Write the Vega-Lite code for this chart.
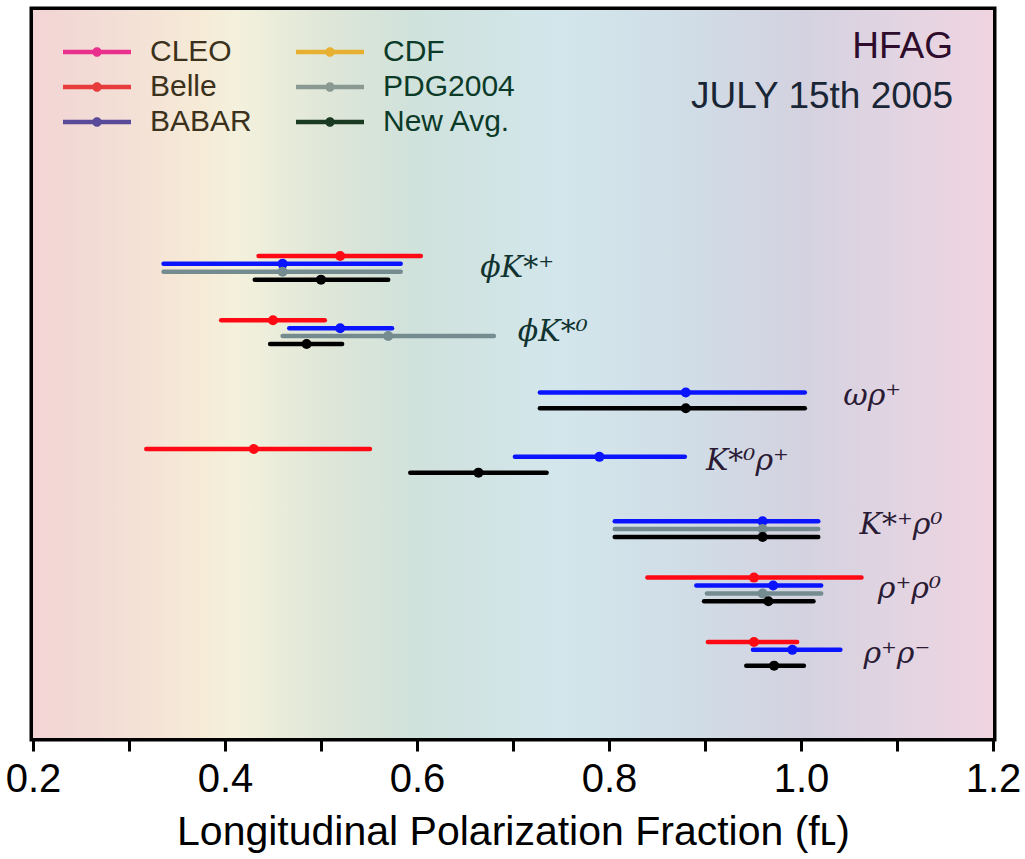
{
  "$schema": "https://vega.github.io/schema/vega-lite/v6.json",
  "width": 960,
  "height": 728,
  "autosize": "none",
  "padding": {"left": 33, "top": 10, "right": 32, "bottom": 121},
  "background": "white",
  "config": {
    "view": {"stroke": "#000000", "strokeWidth": 7},
    "font": "Liberation Sans"
  },
  "title": {
    "text": "HFAG",
    "subtitle": "JULY 15th 2005",
    "anchor": "end",
    "orient": "top",
    "frame": "group",
    "font": "Liberation Sans",
    "subtitleFont": "Liberation Sans",
    "fontSize": 37,
    "subtitleFontSize": 37,
    "fontWeight": "normal",
    "color": "#2e0c2c",
    "subtitleColor": "#1a2636",
    "offset": -106,
    "dx": -40,
    "subtitlePadding": 13
  },
  "datasets": {
    "meas": [
      {"group": "phiKstp", "expt": "Belle", "val": 0.52, "lo": 0.435, "hi": 0.604},
      {"group": "phiKstp", "expt": "BABAR", "val": 0.46, "lo": 0.336, "hi": 0.583},
      {"group": "phiKstp", "expt": "PDG2004", "val": 0.46, "lo": 0.336, "hi": 0.583},
      {"group": "phiKstp", "expt": "New Avg.", "val": 0.50, "lo": 0.431, "hi": 0.570},
      {"group": "phiKst0", "expt": "Belle", "val": 0.45, "lo": 0.396, "hi": 0.504},
      {"group": "phiKst0", "expt": "BABAR", "val": 0.52, "lo": 0.467, "hi": 0.574},
      {"group": "phiKst0", "expt": "PDG2004", "val": 0.57, "lo": 0.460, "hi": 0.680},
      {"group": "phiKst0", "expt": "New Avg.", "val": 0.485, "lo": 0.447, "hi": 0.522},
      {"group": "omegarho", "expt": "BABAR", "val": 0.88, "lo": 0.728, "hi": 1.004},
      {"group": "omegarho", "expt": "New Avg.", "val": 0.88, "lo": 0.728, "hi": 1.004},
      {"group": "Kst0rho", "expt": "Belle", "val": 0.43, "lo": 0.318, "hi": 0.551},
      {"group": "Kst0rho", "expt": "BABAR", "val": 0.79, "lo": 0.702, "hi": 0.879},
      {"group": "Kst0rho", "expt": "New Avg.", "val": 0.664, "lo": 0.593, "hi": 0.735},
      {"group": "Kstprho0", "expt": "BABAR", "val": 0.96, "lo": 0.806, "hi": 1.018},
      {"group": "Kstprho0", "expt": "PDG2004", "val": 0.96, "lo": 0.806, "hi": 1.018},
      {"group": "Kstprho0", "expt": "New Avg.", "val": 0.96, "lo": 0.806, "hi": 1.018},
      {"group": "rhoprho0", "expt": "Belle", "val": 0.951, "lo": 0.840, "hi": 1.063},
      {"group": "rhoprho0", "expt": "BABAR", "val": 0.971, "lo": 0.891, "hi": 1.021},
      {"group": "rhoprho0", "expt": "PDG2004", "val": 0.96, "lo": 0.902, "hi": 1.021},
      {"group": "rhoprho0", "expt": "New Avg.", "val": 0.966, "lo": 0.899, "hi": 1.013},
      {"group": "rhoprhom", "expt": "Belle", "val": 0.951, "lo": 0.903, "hi": 0.996},
      {"group": "rhoprhom", "expt": "BABAR", "val": 0.991, "lo": 0.950, "hi": 1.041},
      {"group": "rhoprhom", "expt": "New Avg.", "val": 0.972, "lo": 0.943, "hi": 1.003}
    ],
    "labels": [
      {"group": "phiKstp", "label": "ϕK*⁺", "xpos": 0.666},
      {"group": "phiKst0", "label": "ϕK*⁰", "xpos": 0.705},
      {"group": "omegarho", "label": "ωρ⁺", "xpos": 1.044},
      {"group": "Kst0rho", "label": "K*⁰ρ⁺", "xpos": 0.901},
      {"group": "Kstprho0", "label": "K*⁺ρ⁰", "xpos": 1.061},
      {"group": "rhoprho0", "label": "ρ⁺ρ⁰", "xpos": 1.08},
      {"group": "rhoprhom", "label": "ρ⁺ρ⁻", "xpos": 1.065}
    ],
    "legend": [
      {"src": "CLEO"}, {"src": "Belle"}, {"src": "BABAR"},
      {"src": "CDF"}, {"src": "PDG2004"}, {"src": "New Avg."}
    ]
  },
  "layer": [
    {
      "data": {"values": [{}]},
      "mark": {
        "type": "rect",
        "fill": {
          "gradient": "linear",
          "x1": 0, "y1": 0, "x2": 1, "y2": 0,
          "stops": [
            {"offset": 0, "color": "#f2d4d4"},
            {"offset": 0.1, "color": "#f3e0d6"},
            {"offset": 0.17, "color": "#f6ead6"},
            {"offset": 0.215, "color": "#f3f1dc"},
            {"offset": 0.31, "color": "#dee6d8"},
            {"offset": 0.4, "color": "#cfe2dc"},
            {"offset": 0.55, "color": "#d3e6ec"},
            {"offset": 0.685, "color": "#d0dde6"},
            {"offset": 0.8, "color": "#d4d2e0"},
            {"offset": 0.9, "color": "#e2d4e2"},
            {"offset": 1, "color": "#f0d4e0"}
          ]
        }
      },
      "encoding": {
        "x": {
          "datum": 0.2,
          "type": "quantitative",
          "scale": {"domain": [0.2, 1.2], "nice": false, "zero": false},
          "axis": {
            "title": "Longitudinal Polarization Fraction (fʟ)",
            "values": [0.2, 0.3, 0.4, 0.5, 0.6, 0.7, 0.8, 0.9, 1.0, 1.1, 1.2],
            "labelExpr": "indexof(['0.2','0.4','0.6','0.8','1.0','1.2'], format(datum.value, '.1f')) >= 0 ? format(datum.value, '.1f') : ''",
            "domain": false,
            "grid": false,
            "ticks": true,
            "tickColor": "#000000",
            "tickWidth": 3,
            "tickSize": 13,
            "labelFont": "Liberation Sans Narrow, Liberation Sans",
            "labelFontSize": 40,
            "labelColor": "#000000",
            "labelPadding": 8,
            "labelFlush": false,
            "labelOverlap": false,
            "labelBound": false,
            "titleFont": "Liberation Sans Narrow, Liberation Sans",
            "titleFontSize": 41,
            "titleFontWeight": "normal",
            "titleColor": "#000000",
            "titlePadding": 13
          }
        },
        "x2": {"datum": 1.2}
      }
    },
    {
      "data": {"name": "meas"},
      "mark": {"type": "rule", "strokeWidth": 4.5, "strokeCap": "round"},
      "encoding": {
        "x": {"field": "lo", "type": "quantitative"},
        "x2": {"field": "hi"},
        "y": {
          "field": "group",
          "type": "nominal",
          "axis": null,
          "scale": {
            "domain": ["phiKstp", "phiKst0", "omegarho", "Kst0rho", "Kstprho0", "rhoprho0", "rhoprhom"],
            "range": [242, 659.6],
            "paddingInner": 0.509,
            "paddingOuter": 0
          }
        },
        "yOffset": {
          "field": "expt",
          "type": "nominal",
          "scale": {"domain": ["Belle", "BABAR", "PDG2004", "New Avg."], "paddingInner": 0, "paddingOuter": 0}
        },
        "color": {
          "field": "expt",
          "type": "nominal",
          "legend": null,
          "scale": {"domain": ["Belle", "BABAR", "PDG2004", "New Avg."], "range": ["#ff0a14", "#0a14ff", "#748c90", "#000000"]}
        }
      }
    },
    {
      "data": {"name": "meas"},
      "mark": {"type": "circle", "size": 100, "opacity": 1},
      "encoding": {
        "x": {"field": "val", "type": "quantitative"},
        "y": {"field": "group", "type": "nominal"},
        "yOffset": {"field": "expt", "type": "nominal"},
        "color": {"field": "expt", "type": "nominal", "legend": null}
      }
    },
    {
      "data": {"name": "labels"},
      "mark": {"type": "text", "align": "left", "baseline": "middle", "font": "DejaVu Serif", "fontStyle": "italic", "fontSize": 30},
      "encoding": {
        "x": {"field": "xpos", "type": "quantitative"},
        "y": {"field": "group", "type": "nominal"},
        "text": {"field": "label"},
        "color": {"condition": {"test": "datum.xpos > 0.85", "value": "#2a1a34"}, "value": "#103330"}
      }
    },
    {
      "data": {"name": "legend"},
      "mark": {"type": "point", "opacity": 0, "filled": true},
      "encoding": {
        "fill": {
          "field": "src",
          "type": "nominal",
          "scale": {
            "domain": ["CLEO", "Belle", "BABAR", "CDF", "PDG2004", "New Avg."],
            "range": ["#e8308c", "#e83c3c", "#5a4a9a", "#e8b030", "#8a9a92", "#1a3a22"]
          },
          "legend": {
            "title": null,
            "orient": "none",
            "legendX": 47,
            "legendY": 25,
            "columns": 2,
            "direction": "vertical",
            "padding": 0,
            "symbolType": "M-2,-0.13H2V0.13H-2Z M0.28,0A0.28,0.28 0 1,1 -0.28,0A0.28,0.28 0 1,1 0.28,0Z",
            "symbolSize": 1156,
            "symbolOpacity": 1,
            "symbolStrokeWidth": 0,
            "labelFont": "Liberation Sans",
            "labelFontSize": 30,
            "labelOffset": 36,
            "labelLimit": 300,
            "columnPadding": 44,
            "rowPadding": 3,
            "encode": {
              "labels": {"update": {"fill": {"signal": "datum.index < 3 ? '#3b311c' : '#0c3a28'"}}}
            }
          }
        }
      }
    }
  ]
}
